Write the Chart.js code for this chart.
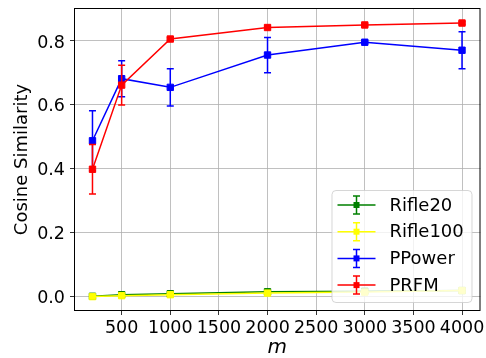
<!DOCTYPE html>
<html>
<head>
<meta charset="utf-8">
<script src="https://cdn.jsdelivr.net/npm/chart.js@4"></script>
<style>
html, body { margin: 0; padding: 0; background: #fff; }
#wrap { width: 486px; height: 358px; }
</style>
</head>
<body>
<div id="wrap"><canvas id="simChart"></canvas></div>
<script>
// values
const mValues = [200, 500, 1000, 2000, 3000, 4000];
const rifle20 = [0.002, 0.007, 0.010, 0.016, 0.018, 0.020];
const rifle20Err = [0.002, 0.002, 0.002, 0.003, 0.003, 0.003];
const rifle100 = [0.001, 0.004, 0.007, 0.012, 0.015, 0.020];
const rifle100Err = [0.001, 0.002, 0.002, 0.002, 0.003, 0.003];
const pPower = [0.488, 0.682, 0.655, 0.756, 0.796, 0.771];
const pPowerErr = [0.094, 0.056, 0.058, 0.055, 0.004, 0.058];
const prfm = [0.399, 0.662, 0.806, 0.842, 0.850, 0.856];
const prfmErr = [0.077, 0.062, 0.004, 0.004, 0.003, 0.004];
const xTicks = [500, 1000, 1500, 2000, 2500, 3000, 3500, 4000];
const yTicks = [0.0, 0.2, 0.4, 0.6, 0.8];

const FONT = "'DejaVu Sans', sans-serif";

function series(label, values, errs, color, order) {
    return {
        label: label,
        data: mValues.map((m, i) => ({ x: m, y: values[i] })),
        errors: errs,
        borderColor: color,
        backgroundColor: color,
        borderWidth: 1.5,
        pointStyle: 'rect',
        pointRadius: 4.5,
        pointBorderWidth: 1,
        pointHoverRadius: 4.5,
        tension: 0,
        order: order
    };
}

// error bars, drawn right after each dataset through the y scale
const errorBars = {
    id: 'errorBars',
    afterDatasetDraw(chart, args) {
        const ds = chart.data.datasets[args.index];
        const yScale = chart.scales.y;
        const c = chart.ctx;
        c.save();
        c.strokeStyle = ds.borderColor;
        c.lineWidth = 1.5;
        args.meta.data.forEach((pt, i) => {
            const v = ds.data[i].y, e = ds.errors[i];
            const yHi = yScale.getPixelForValue(v + e);
            const yLo = yScale.getPixelForValue(v - e);
            c.beginPath();
            c.moveTo(pt.x, yHi); c.lineTo(pt.x, yLo);
            c.moveTo(pt.x - 3.5, yHi); c.lineTo(pt.x + 3.5, yHi);
            c.moveTo(pt.x - 3.5, yLo); c.lineTo(pt.x + 3.5, yLo);
            c.stroke();
        });
        c.restore();
    }
};

// axes frame plus a matplotlib style legend in the lower right corner
const frameAndLegend = {
    id: 'frameAndLegend',
    afterDraw(chart) {
        const c = chart.ctx;
        const a = chart.chartArea;
        c.save();
        c.strokeStyle = '#000';
        c.lineWidth = 1;
        c.strokeRect(a.left + 0.5, a.top + 0.5, a.right - a.left - 1, a.bottom - a.top - 1);

        const boxW = 140, boxH = 112;
        const bx = a.right - 9 - boxW, by = a.bottom - 9 - boxH;
        c.beginPath();
        c.roundRect(bx + 0.5, by + 0.5, boxW, boxH, 4);
        c.fillStyle = 'rgba(255,255,255,0.8)';
        c.fill();
        c.strokeStyle = 'rgba(204,204,204,0.8)';
        c.stroke();

        c.font = '18px ' + FONT;
        c.textBaseline = 'middle';
        c.textAlign = 'left';
        chart.data.datasets.forEach((ds, i) => {
            const cy = by + 15 + i * 26.7;
            const x0 = bx + 6, x1 = bx + 44, mx = (x0 + x1) / 2;
            c.strokeStyle = ds.borderColor;
            c.lineWidth = 1.5;
            c.beginPath();
            c.moveTo(x0, cy); c.lineTo(x1, cy);
            c.moveTo(mx, cy - 9); c.lineTo(mx, cy + 9);
            c.moveTo(mx - 3.5, cy - 9); c.lineTo(mx + 3.5, cy - 9);
            c.moveTo(mx - 3.5, cy + 9); c.lineTo(mx + 3.5, cy + 9);
            c.stroke();
            c.fillStyle = ds.borderColor;
            c.fillRect(mx - 3, cy - 3, 6, 6);
            c.fillStyle = '#000';
            c.fillText(ds.label, bx + 58, cy + 1);
        });
        c.restore();
    }
};

const ctx = document.getElementById('simChart').getContext('2d');
const simChart = new Chart(ctx, {
    type: 'line',
    data: {
        datasets: [
            series('Rifle20', rifle20, rifle20Err, 'green', 4),
            series('Rifle100', rifle100, rifle100Err, 'yellow', 3),
            series('PPower', pPower, pPowerErr, 'blue', 2),
            series('PRFM', prfm, prfmErr, 'red', 1)
        ]
    },
    options: {
        responsive: true,
        maintainAspectRatio: false,
        animation: false,
        layout: { padding: { left: 0, top: 8, right: 5, bottom: 0 } },
        scales: {
            x: {
                type: 'linear',
                min: 10,
                max: 4190,
                afterBuildTicks: s => { s.ticks = xTicks.map(v => ({ value: v })); },
                afterFit: s => { s.height = 47; s.paddingLeft = 0; s.paddingRight = 0; },
                ticks: {
                    color: '#000',
                    font: { family: FONT, size: 17.5 },
                    padding: 3,
                    maxRotation: 0,
                    autoSkip: false,
                    callback: v => String(v)
                },
                grid: { color: '#b0b0b0', lineWidth: 0.8, tickColor: '#000', tickLength: 4 },
                border: { display: false },
                title: {
                    display: true,
                    text: 'm',
                    color: '#000',
                    font: { family: FONT, size: 20, style: 'italic', lineHeight: 1 },
                    padding: { top: 0, bottom: 0 }
                }
            },
            y: {
                min: -0.044,
                max: 0.903,
                afterBuildTicks: s => { s.ticks = yTicks.map(v => ({ value: v })); },
                afterFit: s => { s.width = 74; s.paddingTop = 0; s.paddingBottom = 0; },
                ticks: {
                    color: '#000',
                    font: { family: FONT, size: 17.5 },
                    padding: 5,
                    labelOffset: 2,
                    callback: v => v.toFixed(1)
                },
                grid: { color: '#b0b0b0', lineWidth: 0.8, tickColor: '#000', tickLength: 4 },
                border: { display: false },
                title: {
                    display: true,
                    text: 'Cosine Similarity',
                    color: '#000',
                    font: { family: FONT, size: 18 },
                    padding: { top: 12, bottom: 0 }
                }
            }
        },
        plugins: {
            legend: { display: false },
            tooltip: { enabled: false }
        }
    },
    plugins: [errorBars, frameAndLegend]
});
</script>
</body>
</html>
